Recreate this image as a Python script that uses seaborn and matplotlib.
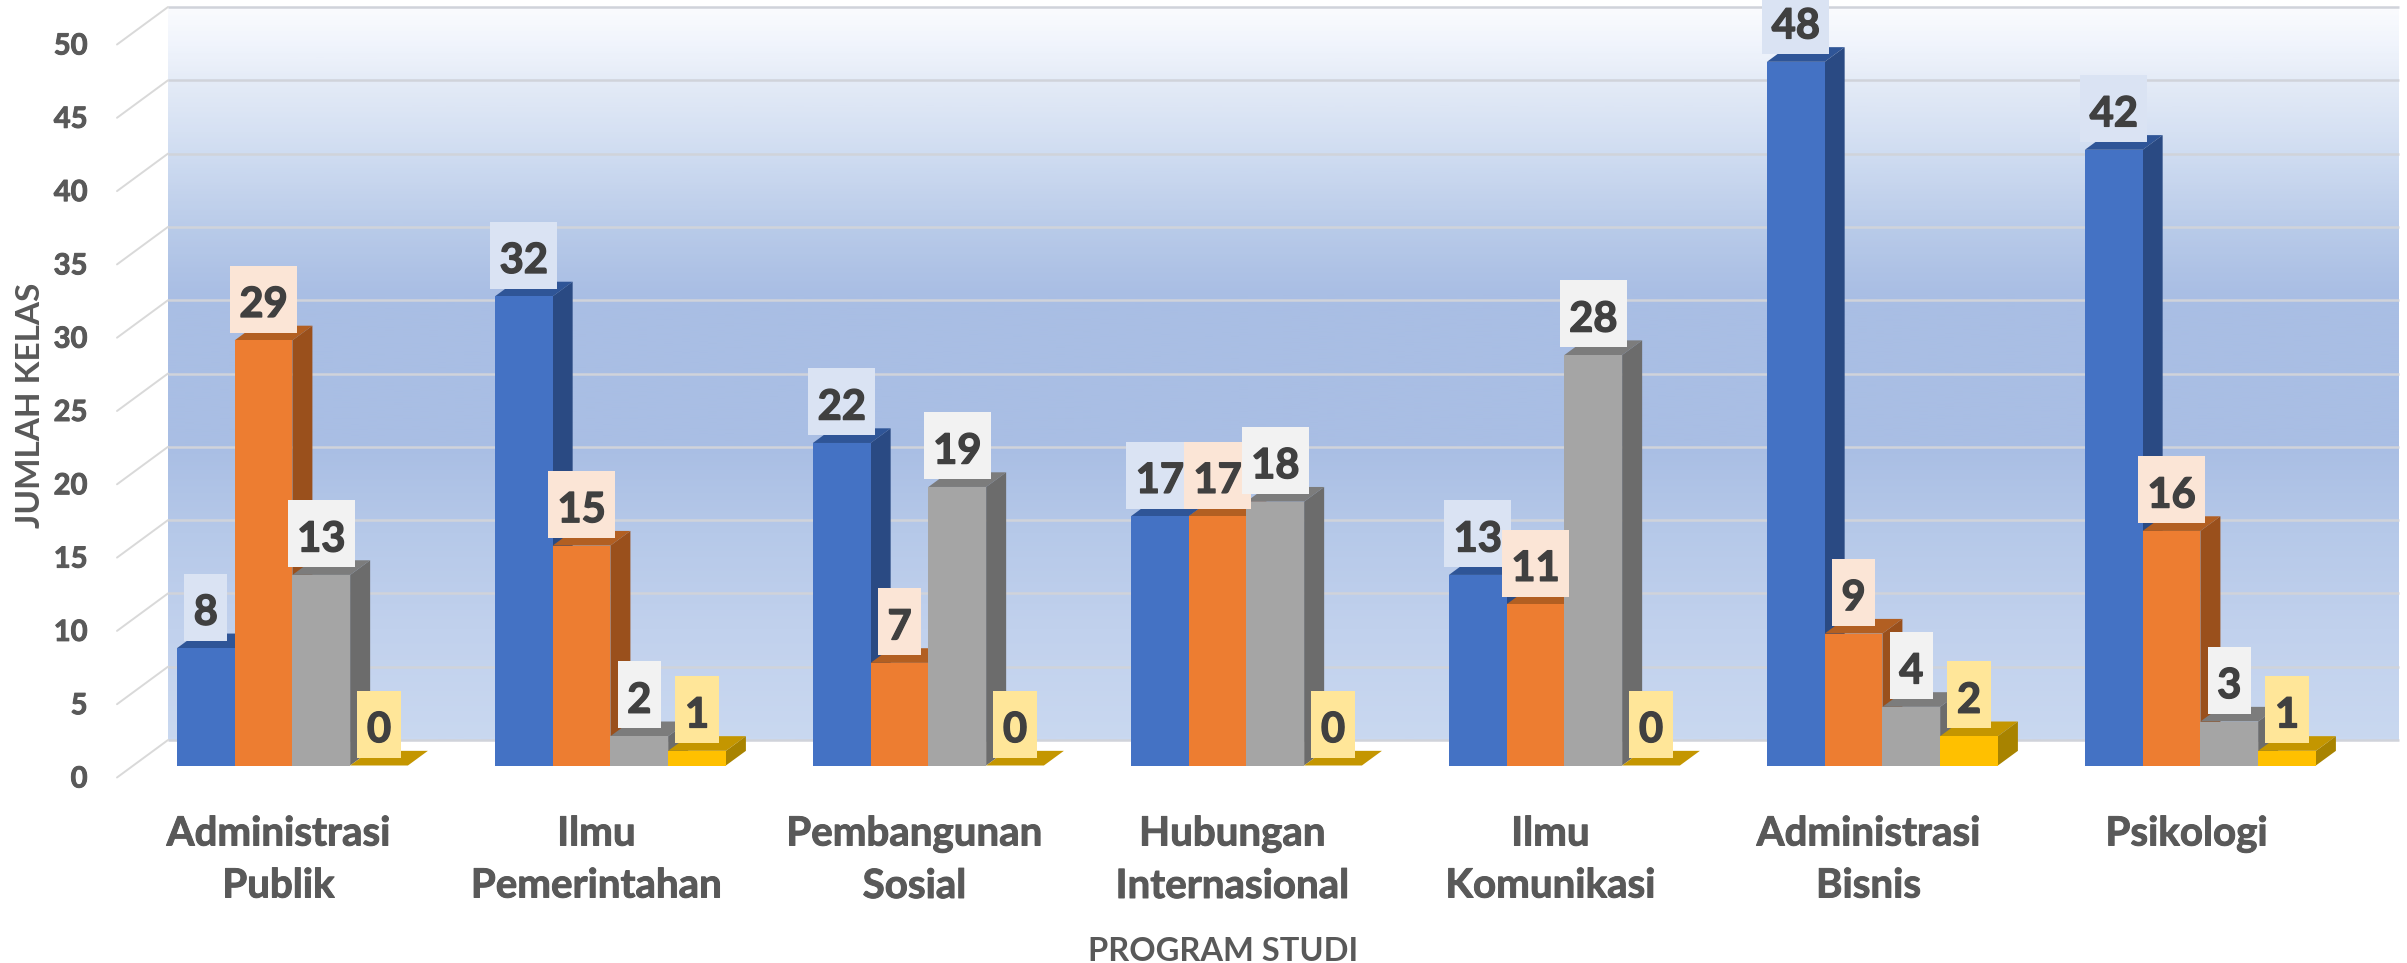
import numpy as np
import pandas as pd
import matplotlib
matplotlib.use('Agg')
import matplotlib.pyplot as plt
import matplotlib.patheffects as pe
from matplotlib.colors import LinearSegmentedColormap
from matplotlib.patches import Polygon
from matplotlib.path import Path
from matplotlib.transforms import ScaledTranslation
import seaborn as sns

# --- data ---
programs = ['Administrasi\nPublik', 'Ilmu\nPemerintahan', 'Pembangunan\nSosial',
            'Hubungan\nInternasional', 'Ilmu\nKomunikasi', 'Administrasi\nBisnis', 'Psikologi']
series_names = ['Seri 1', 'Seri 2', 'Seri 3', 'Seri 4']
seri_1 = [8, 32, 22, 17, 13, 48, 42]
seri_2 = [29, 15, 7, 17, 11, 9, 16]
seri_3 = [13, 2, 19, 18, 28, 4, 3]
seri_4 = [0, 1, 0, 0, 0, 2, 1]
y_ticks = list(range(0, 55, 5))

front_colors = ['#4472C4', '#ED7D31', '#A5A5A5', '#FFC000']
top_colors = ['#2F5597', '#B25F22', '#7C7C7C', '#C49600']
side_colors = ['#2A4A83', '#9A501C', '#6C6C6C', '#A88300']
label_colors = ['#DAE3F3', '#FBE5D6', '#F2F2F2', '#FFE699']

df = pd.DataFrame({'program': programs * 4,
                   'seri': np.repeat(series_names, 7),
                   'kelas': seri_1 + seri_2 + seri_3 + seri_4})

W, H = 2407, 963
px_y = 733 / 50      # pixels per class
px_x = 318           # pixels per category
x0_px = 292.4        # pixel of first category centre
y0_px = 765.5        # pixel of the bar baseline


# label box: fixed height, width follows the text
def label_box(x0, y0, width, height, mutation_size):
    cy = y0 + height / 2 + 5.8
    left, right = x0 - 9.5, x0 + width + 9.5
    return Path([(left, cy - 33.5), (right, cy - 33.5), (right, cy + 33.5), (left, cy + 33.5), (left, cy - 33.5)],
                closed=True)


# a thin stroke brings Lato closer to the weight of the original text
def thicken(color, width=0.7):
    return [pe.withStroke(linewidth=width, foreground=color)]


sns.set_theme(style='white')
plt.rcParams['font.family'] = ['Lato', 'DejaVu Sans']

fig = plt.figure(figsize=(W / 100, H / 100), dpi=100)
ax = fig.add_axes([0, (H - y0_px) / H, 1, y0_px / H])
sns.barplot(data=df, x='program', y='kelas', hue='seri', palette=front_colors,
            width=0.7264, gap=0, saturation=1, legend=False, ax=ax, zorder=3, linewidth=0)
ax.set_xlim(-x0_px / px_x, (W - x0_px) / px_x)
ax.set_ylim(0, y0_px / px_y)

# back wall
wall_x = [(168 - x0_px) / px_x, (2399 - x0_px) / px_x]
wall_lift = 25.5 / px_y
wall_stops = [(0.0, '#FAFBFE'), (0.05, '#F0F4FC'), (0.10, '#E4EBF7'), (0.20, '#CFDCF1'),
              (0.30, '#B9CBE9'), (0.39, '#A9BEE4'), (0.60, '#A9BEE4'),
              (0.72, '#B6C9E9'), (0.85, '#C1D1ED'), (1.0, '#C9D8F0')]
wall_cmap = LinearSegmentedColormap.from_list('wall', wall_stops)
ax.imshow(np.linspace(0, 1, 400).reshape(-1, 1), cmap=wall_cmap, aspect='auto', zorder=0,
          extent=[wall_x[0], wall_x[1], wall_lift, 50 + wall_lift], origin='upper')
ax.set_xlim(-x0_px / px_x, (W - x0_px) / px_x)
ax.set_ylim(0, y0_px / px_y)

# gridlines on the wall and the slanted ticks on the left
ax.hlines([v + wall_lift for v in y_ticks], wall_x[0], wall_x[1], color='#D0D3DA', lw=1.8, zorder=1)
for v in y_ticks:
    ax.plot([(117 - x0_px) / px_x, wall_x[0]], [v - 12 / px_y, v + wall_lift],
            color='#D9D9D9', lw=1.4, clip_on=False, zorder=1)

# 3d faces and value labels, painted left to right
depth_x = 20 / px_x
depth_y = 1.0
n_series = len(series_names)
for s, bars in enumerate(ax.containers):
    for c, bar in enumerate(bars):
        x, w, h = bar.get_x(), bar.get_width(), bar.get_height()
        order = 3 + c * n_series + s
        bar.set_zorder(order + 0.5)
        ax.add_patch(Polygon([(x, h), (x + w, h), (x + w + depth_x, h + depth_y), (x + depth_x, h + depth_y)],
                             fc=top_colors[s], ec='none', zorder=order))
        ax.add_patch(Polygon([(x + w, 0), (x + w + depth_x, depth_y), (x + w + depth_x, h + depth_y), (x + w, h)],
                             fc=side_colors[s], ec='none', zorder=order))
        ax.annotate(str(int(h)), xy=(x + w / 2, h), xytext=(0, 25.5), textcoords='offset points',
                    ha='center', va='center', fontsize=30, fontweight='bold', color='#404040',
                    bbox=dict(boxstyle=label_box, fc=label_colors[s], ec='none'),
                    path_effects=thicken('#404040', 1.0),
                    zorder=100 + c * n_series + s, annotation_clip=False)

# category axis
sns.despine(ax=ax, left=True, bottom=True, right=True, top=True)
ax.set_yticks([])
ax.set_ylabel('')
ax.tick_params(axis='x', length=0, pad=36, labelsize=29, labelcolor='#595959')
ax.set_xticks(range(len(programs)), programs, fontweight='bold', linespacing=1.5)
shift = ScaledTranslation(-14 / 100, 0, fig.dpi_scale_trans)
for lab in ax.get_xticklabels():
    lab.set_transform(lab.get_transform() + shift)
    lab.set_path_effects(thicken('#595959'))
ax.set_xlabel('PROGRAM STUDI', fontsize=23.5, fontweight='bold', color='#595959')
ax.xaxis.set_label_coords(1223 / W, -(951 - y0_px) / y0_px, transform=ax.transAxes)
ax.xaxis.label.set_va('center')

# value axis on the front plane
ax_y = fig.add_axes([100 / W, (H - 777) / H, 10 / W, 733 / H], facecolor='none')
ax_y.set_ylim(0, 50)
ax_y.set_xticks([])
ax_y.set_yticks(y_ticks)
ax_y.tick_params(axis='y', length=0, pad=9, labelsize=21, labelcolor='#595959')
for lab in ax_y.get_yticklabels():
    lab.set_fontweight('bold')
    lab.set_path_effects(thicken('#595959'))
sns.despine(ax=ax_y, left=True, bottom=True, right=True, top=True)
ax_y.set_ylabel('JUMLAH KELAS', fontsize=24, fontweight='bold', color='#595959')
ax_y.yaxis.set_label_coords((31 - 100) / 10, (777 - 405) / 733, transform=ax_y.transAxes)
ax_y.yaxis.label.set_va('center')

plt.savefig('out.png', dpi=100)
plt.close()
